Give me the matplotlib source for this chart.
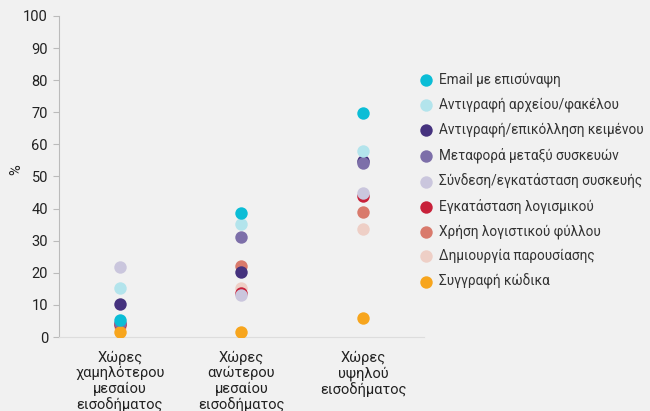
# Ψηφιακές δεξιότητες ανά ομάδα χωρών (dot plot)

import matplotlib.pyplot as plt
import numpy as np

plt.rcParams['font.family'] = ['Roboto', 'Noto Sans', 'DejaVu Sans']

ομάδες = ['Χώρες\nχαμηλότερου\nμεσαίου\nεισοδήματος',
          'Χώρες\nανώτερου\nμεσαίου\nεισοδήματος',
          'Χώρες\nυψηλού\nεισοδήματος']

σειρές = ['Email με επισύναψη',
          'Αντιγραφή αρχείου/φακέλου',
          'Αντιγραφή/επικόλληση κειμένου',
          'Μεταφορά μεταξύ συσκευών',
          'Σύνδεση/εγκατάσταση συσκευής',
          'Εγκατάσταση λογισμικού',
          'Χρήση λογιστικού φύλλου',
          'Δημιουργία παρουσίασης',
          'Συγγραφή κώδικα']

email = [5.3, 38.6, 69.7]
αρχείο = [15.3, 35.2, 57.9]
επικόλληση = [10.3, 20.2, 54.8]
μεταφορά = [4.5, 31.2, 54.2]
σύνδεση = [21.8, 13.1, 45.0]
λογισμικό = [4.2, 13.6, 44.0]
λογιστικό = [3.8, 22.1, 39.0]
παρουσίαση = [3.0, 15.3, 33.6]
κώδικας = [1.6, 1.6, 5.8]

τιμές = [email, αρχείο, επικόλληση, μεταφορά, σύνδεση,
         λογισμικό, λογιστικό, παρουσίαση, κώδικας]

χρώματα = ['#0BBDD6', '#B3E4EC', '#45327E', '#7D6FA9', '#CAC6DD',
           '#C8213A', '#D97A6C', '#EECFC6', '#F7A51D']
σειρά_σχεδίασης = [10, 8, 6, 7, 5, 4, 3, 2, 9]

fig = plt.figure(figsize=(6.5, 4.11), dpi=100)
fig.patch.set_facecolor('#F1F1F1')
ax = fig.add_axes([59 / 650, 1 - 337 / 411, 365 / 650, 321 / 411])
ax.set_facecolor('#F1F1F1')

x = np.arange(len(ομάδες))
for όνομα, y, χρώμα, z in zip(σειρές, τιμές, χρώματα, σειρά_σχεδίασης):
    ax.scatter(x, y, s=80, color=χρώμα, label=όνομα, zorder=z, linewidths=0)

ax.set_xlim(-0.5, 2.5)
ax.set_ylim(0, 100)
ax.set_yticks(range(0, 101, 10))
ax.set_xticks(x)
ax.set_xticklabels(ομάδες, fontsize=10.5, color='#222222', linespacing=1.1)
ax.tick_params(axis='x', length=0, pad=10)
ax.tick_params(axis='y', length=4, color='#BBBBBB', labelsize=10.5,
               labelcolor='#222222', pad=4)

for πλευρά in ['top', 'right']:
    ax.spines[πλευρά].set_visible(False)
ax.spines['left'].set_color('#BBBBBB')
ax.spines['bottom'].set_color('#DDDDDD')

fig.text(16 / 650, 1 - 170 / 411, '%', rotation=90, fontsize=10.5,
         color='#222222', ha='center', va='center')

ax.legend(loc='upper left', bbox_to_anchor=(0.975, 0.84), frameon=False,
          fontsize=9.8, labelspacing=0.755, handlelength=0.9,
          handletextpad=0.5, borderaxespad=0, labelcolor='#333333',
          scatterpoints=1)

plt.savefig('out.png', dpi=100, facecolor=fig.get_facecolor())
